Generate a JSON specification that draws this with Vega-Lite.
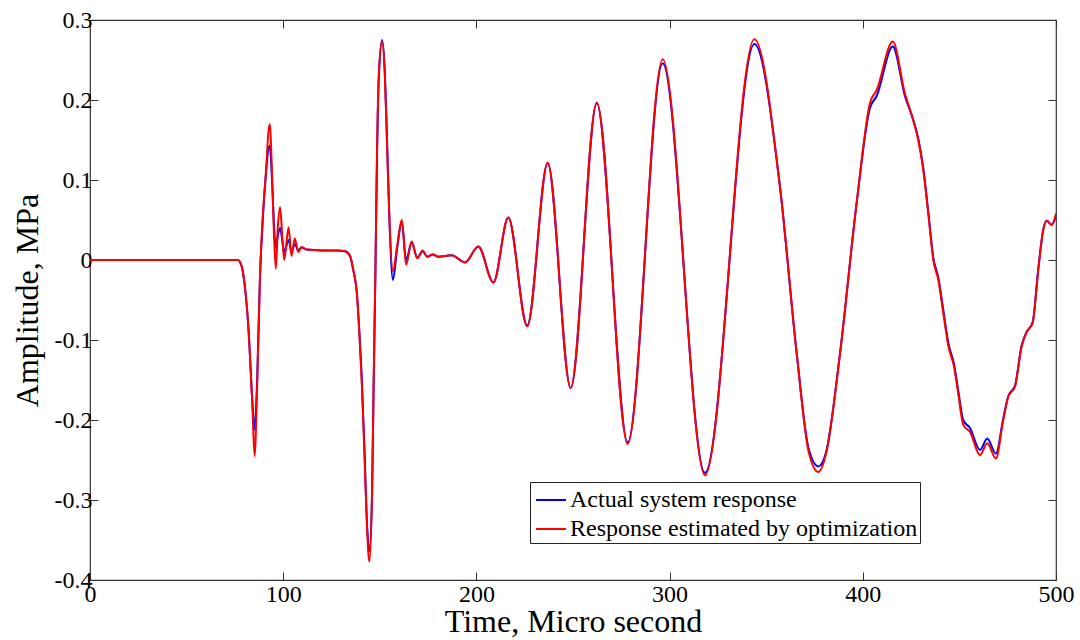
{
  "$schema": "https://vega.github.io/schema/vega-lite/v6.json",
  "width": 966,
  "height": 560,
  "autosize": {"type": "none"},
  "padding": {"left": 90, "top": 20, "right": 24, "bottom": 60},
  "background": "white",
  "config": {
    "view": {"stroke": "#333333", "strokeWidth": 1.2},
    "font": "Liberation Serif",
    "axis": {
      "grid": false,
      "domain": false,
      "tickColor": "#333333",
      "tickSize": -8,
      "labelFont": "Liberation Serif",
      "labelFontSize": 24,
      "labelColor": "black",
      "titleFont": "Liberation Serif",
      "titleFontSize": 32,
      "titleFontWeight": "normal",
      "titleColor": "black"
    }
  },
  "data": {
    "values": [
      {"t": 0, "a": 0, "e": 0},
      {"t": 76.5, "a": 0, "e": 0},
      {"t": 78.5, "a": -0.008, "e": -0.008},
      {"t": 80, "a": -0.03, "e": -0.03},
      {"t": 82, "a": -0.085, "e": -0.085},
      {"t": 84, "a": -0.175, "e": -0.18},
      {"t": 85.2, "a": -0.212, "e": -0.245},
      {"t": 86.5, "a": -0.15, "e": -0.16},
      {"t": 88, "a": -0.02, "e": -0.02},
      {"t": 89.2, "a": 0.04, "e": 0.045},
      {"t": 90.8, "a": 0.1, "e": 0.1},
      {"t": 93, "a": 0.143, "e": 0.17},
      {"t": 94.4, "a": 0.09, "e": 0.095},
      {"t": 95.3, "a": 0.04, "e": 0.027},
      {"t": 96.2, "a": 0.015, "e": -0.011},
      {"t": 97.2, "a": 0.03, "e": 0.04},
      {"t": 98.4, "a": 0.04, "e": 0.066},
      {"t": 99.5, "a": 0.025, "e": 0.03},
      {"t": 100.5, "a": 0.01, "e": 0.0},
      {"t": 102.8, "a": 0.025, "e": 0.041},
      {"t": 104.3, "a": 0.01, "e": 0.005},
      {"t": 106, "a": 0.02, "e": 0.027},
      {"t": 107.8, "a": 0.012, "e": 0.01},
      {"t": 109.5, "a": 0.016, "e": 0.016},
      {"t": 112, "a": 0.013, "e": 0.013},
      {"t": 120, "a": 0.012, "e": 0.012},
      {"t": 128, "a": 0.012, "e": 0.012},
      {"t": 132, "a": 0.011, "e": 0.011},
      {"t": 134.6, "a": 0.005, "e": 0.005},
      {"t": 136.3, "a": -0.013, "e": -0.013},
      {"t": 138.1, "a": -0.04, "e": -0.041},
      {"t": 139.3, "a": -0.085, "e": -0.086},
      {"t": 140.7, "a": -0.15, "e": -0.155},
      {"t": 142.1, "a": -0.24, "e": -0.245},
      {"t": 143.4, "a": -0.33, "e": -0.336},
      {"t": 144.6, "a": -0.364, "e": -0.377},
      {"t": 146, "a": -0.29, "e": -0.29},
      {"t": 146.8, "a": -0.16, "e": -0.155},
      {"t": 147.7, "a": -0.02, "e": -0.018},
      {"t": 148.6, "a": 0.135, "e": 0.141},
      {"t": 149.5, "a": 0.23, "e": 0.232},
      {"t": 151.2, "a": 0.275, "e": 0.273},
      {"t": 152.6, "a": 0.235, "e": 0.232},
      {"t": 153.8, "a": 0.145, "e": 0.141},
      {"t": 155, "a": 0.05, "e": 0.05},
      {"t": 156.8, "a": -0.025, "e": -0.014},
      {"t": 159, "a": 0.015, "e": 0.018},
      {"t": 161.4, "a": 0.048, "e": 0.05},
      {"t": 163.6, "a": 0.0, "e": -0.006},
      {"t": 166.5, "a": 0.022, "e": 0.023},
      {"t": 169.4, "a": 0.003, "e": 0.002},
      {"t": 172.2, "a": 0.011, "e": 0.012},
      {"t": 174.6, "a": 0.004, "e": 0.004},
      {"t": 177.4, "a": 0.007, "e": 0.007},
      {"t": 180.3, "a": 0.004, "e": 0.004},
      {"t": 187.2, "a": 0.006, "e": 0.006},
      {"t": 194.1, "a": -0.003, "e": -0.003},
      {"t": 201, "a": 0.017, "e": 0.017},
      {"t": 208.8, "a": -0.028, "e": -0.028},
      {"t": 216.5, "a": 0.053, "e": 0.053},
      {"t": 226.3, "a": -0.082, "e": -0.083},
      {"t": 236.9, "a": 0.121, "e": 0.122},
      {"t": 248.8, "a": -0.16, "e": -0.16},
      {"t": 262.3, "a": 0.196, "e": 0.197},
      {"t": 278.3, "a": -0.228, "e": -0.23},
      {"t": 296.4, "a": 0.246, "e": 0.251},
      {"t": 318.3, "a": -0.266, "e": -0.269},
      {"t": 343.9, "a": 0.27, "e": 0.276},
      {"t": 357.1, "a": 0.092, "e": 0.092},
      {"t": 365.8, "a": -0.117, "e": -0.117},
      {"t": 372, "a": -0.236, "e": -0.24},
      {"t": 377, "a": -0.258, "e": -0.265},
      {"t": 381, "a": -0.24, "e": -0.242},
      {"t": 388.2, "a": -0.117, "e": -0.117},
      {"t": 396.8, "a": 0.071, "e": 0.071},
      {"t": 403.7, "a": 0.19, "e": 0.196},
      {"t": 407.2, "a": 0.205, "e": 0.2125},
      {"t": 415.5, "a": 0.267, "e": 0.273},
      {"t": 421.8, "a": 0.205, "e": 0.208},
      {"t": 426.1, "a": 0.175, "e": 0.175},
      {"t": 428.7, "a": 0.152, "e": 0.15},
      {"t": 431.3, "a": 0.115, "e": 0.1125},
      {"t": 433.9, "a": 0.06, "e": 0.058},
      {"t": 436.5, "a": 0.003, "e": 0.0},
      {"t": 439.1, "a": -0.022, "e": -0.025},
      {"t": 441.7, "a": -0.063, "e": -0.067},
      {"t": 444.3, "a": -0.104, "e": -0.108},
      {"t": 447.2, "a": -0.13, "e": -0.133},
      {"t": 449.4, "a": -0.163, "e": -0.167},
      {"t": 452, "a": -0.2, "e": -0.206},
      {"t": 455.5, "a": -0.21, "e": -0.215},
      {"t": 460.7, "a": -0.2375, "e": -0.244},
      {"t": 464.4, "a": -0.223, "e": -0.229},
      {"t": 468.9, "a": -0.242, "e": -0.248},
      {"t": 472.7, "a": -0.198, "e": -0.2},
      {"t": 475.3, "a": -0.17, "e": -0.171},
      {"t": 478.8, "a": -0.157, "e": -0.158},
      {"t": 482.2, "a": -0.107, "e": -0.108},
      {"t": 484.8, "a": -0.09, "e": -0.09},
      {"t": 487.9, "a": -0.078, "e": -0.079},
      {"t": 490.8, "a": -0.012, "e": -0.0125},
      {"t": 493.4, "a": 0.038, "e": 0.0375},
      {"t": 495.2, "a": 0.049, "e": 0.049},
      {"t": 497.8, "a": 0.044, "e": 0.044},
      {"t": 500, "a": 0.055, "e": 0.058}
    ]
  },
  "transform": [
    {"fold": ["a", "e"], "as": ["key", "value"]},
    {"lookup": "key", "from": {"data": {"values": [
      {"key": "a", "series": "Actual system response", "ord": 0},
      {"key": "e", "series": "Response estimated by optimization", "ord": 1}
    ]}, "key": "key", "fields": ["series", "ord"]}}
  ],
  "resolve": {"axis": {"x": "independent", "y": "independent"}},
  "layer": [
    {
      "mark": {"type": "line", "interpolate": "monotone", "strokeWidth": 2, "clip": true},
      "encoding": {
        "x": {"field": "t", "type": "quantitative", "scale": {"domain": [0, 500], "nice": false, "zero": false},
          "axis": {"title": "Time, Micro second", "values": [0, 100, 200, 300, 400, 500], "labelPadding": 10, "titlePadding": 0, "labelFlush": false, "labelExpr": "'' + datum.value"}},
        "y": {"field": "value", "type": "quantitative", "scale": {"domain": [-0.4, 0.3], "nice": false, "zero": false},
          "axis": {"title": "Amplitude, MPa", "values": [-0.4, -0.3, -0.2, -0.1, 0, 0.1, 0.2, 0.3], "labelPadding": 6, "titlePadding": 10, "labelFlush": false, "labelExpr": "'' + datum.value"}},
        "color": {"field": "series", "type": "nominal",
          "scale": {"domain": ["Actual system response", "Response estimated by optimization"], "range": ["#0000ff", "#ff0000"]},
          "legend": {"title": null, "orient": "none", "legendX": 440, "legendY": 462,
            "strokeColor": "#222222", "fillColor": "white", "padding": 2, "rowPadding": 1,
            "symbolType": "stroke", "symbolStrokeWidth": 2, "symbolSize": 900, "symbolOffset": 3, "labelOffset": 3,
            "labelFont": "Liberation Serif", "labelFontSize": 24, "labelColor": "black", "labelLimit": 500}},
        "order": {"field": "ord", "type": "quantitative"}
      }
    },
    {
      "mark": {"type": "line", "opacity": 0},
      "encoding": {
        "x": {"field": "t", "type": "quantitative", "scale": {"domain": [0, 500], "nice": false, "zero": false},
          "axis": {"orient": "top", "title": null, "labels": false, "values": [0, 100, 200, 300, 400, 500]}},
        "y": {"field": "value", "type": "quantitative", "scale": {"domain": [-0.4, 0.3], "nice": false, "zero": false},
          "axis": {"orient": "right", "title": null, "labels": false, "values": [-0.4, -0.3, -0.2, -0.1, 0, 0.1, 0.2, 0.3]}},
        "detail": {"field": "key"}
      }
    }
  ]
}
